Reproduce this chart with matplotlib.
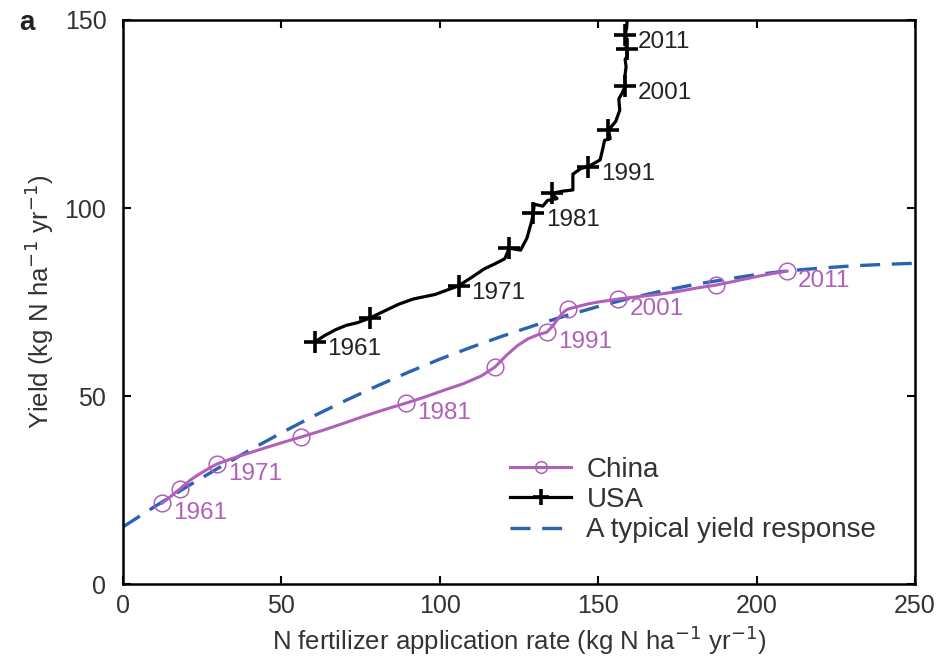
import matplotlib.pyplot as plt

plt.rcParams['font.family'] = ['Liberation Sans', 'DejaVu Sans']

# annual trajectories: N fertilizer rate vs yield (kg N / ha / yr)
china_years = list(range(1961, 2012))
china_rate = [12.3, 13.4, 14.6, 15.8, 16.9, 18.0, 19.6, 21.5, 24.0, 26.8,
              29.6, 34.5, 40.0, 45.2, 50.6, 56.2, 62.8, 69.5, 76.0, 82.6,
              89.3, 95.5, 101.5, 107.5, 113.0, 117.4, 121.0, 124.5, 127.8, 131.0,
              133.8, 135.5, 137.0, 138.5, 139.6, 140.4, 143.5, 146.8, 150.0, 153.2,
              156.3, 162.5, 168.8, 175.0, 181.0, 187.2, 191.8, 196.3, 200.8, 205.2,
              209.6]
china_yield = [21.5, 22.2, 23.0, 23.8, 24.6, 25.3, 26.5, 27.8, 29.2, 30.6,
               31.9, 33.4, 34.9, 36.3, 37.7, 39.1, 40.8, 42.7, 44.6, 46.4,
               48.1, 49.8, 51.6, 53.3, 55.3, 57.7, 60.8, 63.4, 65.2, 66.3,
               67.0, 68.5, 70.2, 71.8, 72.7, 73.1, 73.8, 74.5, 75.0, 75.4,
               75.8, 76.4, 77.0, 77.8, 78.7, 79.5, 80.3, 81.1, 81.9, 82.6,
               83.2]

usa_years = list(range(1961, 2014))
usa_rate = [60.6, 63.5, 67.0, 70.5, 74.0, 77.8, 82.5, 87.0, 91.6, 98.5,
            105.9, 110.5, 114.0, 117.5, 120.5, 121.9, 125.5, 127.5, 128.5, 129.0,
            129.5, 129.8, 132.5, 134.0, 137.0, 135.3, 139.0, 142.0, 142.0, 144.5,
            146.9, 150.6, 151.5, 152.0, 153.8, 153.2, 155.5, 156.8, 156.5, 157.5,
            158.5, 158.4, 158.8, 158.5, 159.2, 159.0, 158.7, 159.0, 158.6, 158.9,
            158.5, 159.0, 159.2]
usa_yield = [64.4, 66.0, 67.6, 68.8, 69.5, 70.7, 72.6, 74.4, 75.8, 77.0,
             79.3, 81.8, 83.8, 85.2, 86.5, 89.3, 88.8, 92.0, 95.0, 96.5,
             98.6, 101.0, 100.5, 102.0, 102.5, 103.9, 104.5, 104.8, 109.0, 110.5,
             111.0, 112.8, 116.0, 118.0, 118.5, 120.7, 123.0, 126.0, 129.0, 130.5,
             132.4, 135.0, 137.5, 139.5, 140.5, 142.2, 143.5, 144.0, 144.8, 145.5,
             146.0, 148.0, 151.0]

# typical yield response curve
resp_rate = [0, 10, 20, 30, 40, 50, 60, 70, 80, 90, 100, 110, 120, 130, 140,
             150, 160, 170, 180, 190, 200, 210, 220, 230, 240, 250]
resp_yield = [15.2, 20.6, 25.8, 30.8, 35.6, 40.2, 44.6, 48.7, 52.6, 56.3, 59.8,
              63.0, 66.0, 68.8, 71.4, 73.8, 76.0, 77.9, 79.6, 81.0, 82.3, 83.3,
              84.0, 84.6, 85.0, 85.3]

label_years = [1961, 1971, 1981, 1991, 2001, 2011]

purple = '#b060b8'
blue = '#2a62b4'
text_col = '#333333'

fig = plt.figure(figsize=(9.4, 6.62), dpi=100)
ax = fig.add_axes([0.1309, 0.1178, 0.8425, 0.852])

china_marks = [i for i, y in enumerate(china_years) if (y - 1961) % 5 == 0]
usa_marks = [i for i, y in enumerate(usa_years) if y <= 2011 and (y - 1961) % 5 == 0]

ax.plot(resp_rate, resp_yield, color=blue, lw=2.4, dashes=(6, 3.5),
        label='A typical yield response', zorder=2)
ax.plot(china_rate, china_yield, color=purple, lw=2.2, marker='o', ms=12,
        mfc='none', mec=purple, mew=1.1, markevery=china_marks, label='China', zorder=3)
ax.plot(usa_rate, usa_yield, color='black', lw=2.3, marker='+', ms=16,
        mew=2.6, markevery=usa_marks, label='USA', zorder=4)

for yr in label_years:
    i = china_years.index(yr)
    ax.annotate(str(yr), (china_rate[i], china_yield[i]), xytext=(8, -7),
                textcoords='offset points', ha='left', va='center',
                fontsize=17.5, color=purple)
    j = usa_years.index(yr)
    ax.annotate(str(yr), (usa_rate[j], usa_yield[j]), xytext=(9, -5),
                textcoords='offset points', ha='left', va='center',
                fontsize=17.5, color='#222222')

ax.set_xlim(0, 250)
ax.set_ylim(0, 150)
ax.set_xticks([0, 50, 100, 150, 200, 250])
ax.set_yticks([0, 50, 100, 150])
ax.tick_params(direction='in', length=6, width=1.5, top=True, right=True,
               labelsize=18, labelcolor=text_col)
ax.tick_params(axis='y', pad=12)
ax.tick_params(axis='x', pad=7)
for sp in ax.spines.values():
    sp.set_linewidth(1.8)

ax.set_xlabel('N fertilizer application rate (kg N ha$^{-1}$ yr$^{-1}$)',
              fontsize=18.5, color=text_col, labelpad=4)
ax.set_ylabel('Yield (kg N ha$^{-1}$ yr$^{-1}$)', fontsize=18.5, color=text_col, labelpad=6)

handles, labels = ax.get_legend_handles_labels()
order = [1, 2, 0]
leg = ax.legend([handles[k] for k in order], [labels[k] for k in order],
                loc='upper left', bbox_to_anchor=(0.4886, 0.226), frameon=False,
                fontsize=20, handlelength=2.2, handletextpad=0.55,
                labelspacing=0.16, markerscale=0.7, labelcolor=text_col,
                borderaxespad=0, borderpad=0)

fig.text(0.021, 0.965, 'a', fontsize=20, fontweight='bold', color='#222222',
         ha='left', va='center')

fig.savefig('out.png', dpi=100)
